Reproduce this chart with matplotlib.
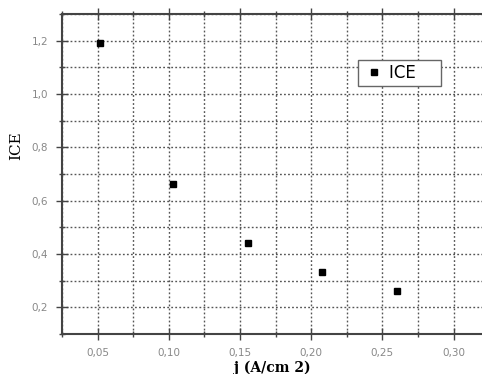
import numpy as np
import matplotlib
matplotlib.use("Agg")
import matplotlib.pyplot as plt
from matplotlib.ticker import MultipleLocator, FuncFormatter

# current density j (A/cm2) and ICE values
j_vals = [0.0514, 0.1028, 0.1556, 0.2077, 0.2603]
ice_vals = [1.19, 0.664, 0.441, 0.331, 0.262]

fig = plt.figure(figsize=(4.82, 3.74), dpi=100)
ax = fig.add_axes([0.1286, 0.107, 0.8714, 0.8556])

ax.plot(j_vals, ice_vals, linestyle="none", marker="s", markersize=4,
        color="black", label="ICE    ")

ax.set_xlim(0.025, 0.32)
ax.set_ylim(0.1, 1.3)

ax.xaxis.set_major_locator(MultipleLocator(0.05))
ax.xaxis.set_minor_locator(MultipleLocator(0.025))
ax.yaxis.set_major_locator(MultipleLocator(0.2))
ax.yaxis.set_minor_locator(MultipleLocator(0.1))

comma = lambda fmt: FuncFormatter(lambda v, p: (fmt % v).replace(".", ","))
ax.xaxis.set_major_formatter(comma("%.2f"))
ax.yaxis.set_major_formatter(comma("%.1f"))

ax.grid(True, which="both", linestyle=(0, (1.3, 1.6)), color="#555555", linewidth=1.0)
ax.set_axisbelow(True)

ax.spines["right"].set_visible(False)
for s in ["left", "bottom", "top"]:
    ax.spines[s].set_color("#444444")
    ax.spines[s].set_linewidth(1.5)

ax.tick_params(which="both", direction="inout", top=True, labeltop=False,
               colors="#444444", labelcolor="#888888", labelsize=7.5, pad=6)
ax.tick_params(which="major", length=8, width=1)
ax.tick_params(which="minor", length=5, width=1)

ax.set_ylabel("ICE", family="serif", fontsize=11)
ax.yaxis.set_label_coords(-0.093, 0.5875)
ax.set_xlabel("j (A/cm 2)", family="serif", fontweight="bold", fontsize=10, labelpad=2)

leg = ax.legend(loc="upper left", bbox_to_anchor=(0.705, 0.856), frameon=True,
                fancybox=False, handlelength=1.4, handletextpad=0.2,
                borderpad=0.25, borderaxespad=0, prop={"size": 12})
leg.get_frame().set_edgecolor("#666666")
leg.get_frame().set_linewidth(1.0)
leg.get_frame().set_alpha(1)

fig.savefig("out.png", dpi=100)
